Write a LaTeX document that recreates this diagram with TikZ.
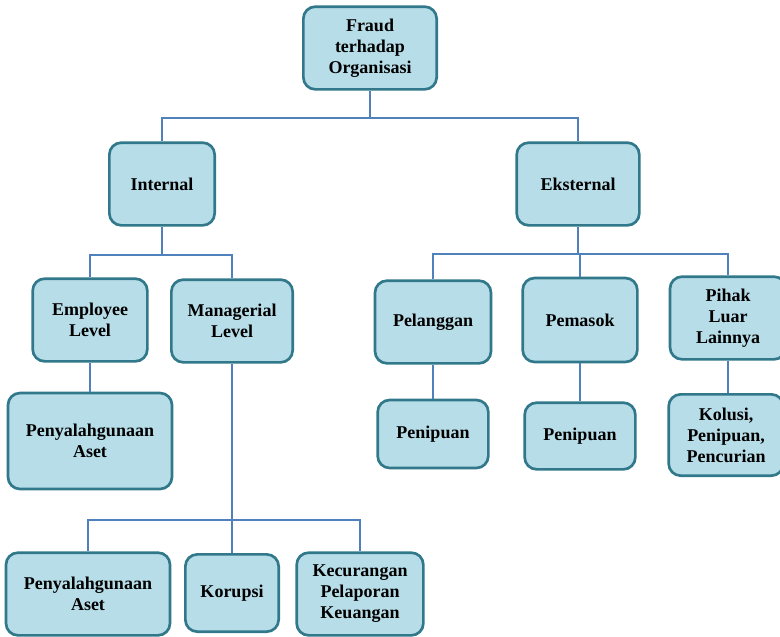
\documentclass[tikz,border=0pt]{standalone}
\usepackage{fontspec}
\setmainfont{Liberation Serif}
\usetikzlibrary{positioning}

\definecolor{boxfill}{HTML}{B7DDE8}
\definecolor{boxline}{HTML}{31788A}
\definecolor{linkline}{HTML}{4F81BD}

\begin{document}
\begin{tikzpicture}[x=0.75pt, y=-0.75pt]
    \tikzstyle{b}=[draw=boxline, fill=boxfill, line width=2pt, rounded corners=9pt,
        align=center, inner sep=2pt, font=\fontsize{13.5}{15.75}\selectfont\bfseries]
    \tikzstyle{e}=[draw=linkline, line width=0.8pt]

    \useasboundingbox (0,0) rectangle (780,636);

    % top
    \node[b, minimum width=100pt, minimum height=62pt] (root) at (370,48) {Fraud\\terhadap\\Organisasi};
    \node[b, minimum width=79pt, minimum height=62pt] (int) at (162,184) {Internal};
    \node[b, minimum width=92pt, minimum height=62pt] (ext) at (578,184) {Eksternal};

    % internal
    \node[b, minimum width=86pt, minimum height=62pt] (emp) at (90,320) {Employee\\Level};
    \node[b, minimum width=91pt, minimum height=62pt] (man) at (232,321) {Managerial\\Level};
    \node[b, minimum width=123pt, minimum height=72pt] (asetA) at (90,441) {Penyalahgunaan\\Aset};
    \node[b, minimum width=123pt, minimum height=62pt] (asetB) at (88,594) {Penyalahgunaan\\Aset};
    \node[b, minimum width=70pt, minimum height=58pt] (kor) at (232,593) {Korupsi};
    \node[b, minimum width=95pt, minimum height=62pt] (lap) at (360,594) {Kecurangan\\Pelaporan\\Keuangan};

    % eksternal
    \node[b, minimum width=87pt, minimum height=62pt] (pel) at (433,322) {Pelanggan};
    \node[b, minimum width=86pt, minimum height=63pt] (pem) at (580,320) {Pemasok};
    \node[b, minimum width=87pt, minimum height=62pt] (lain) at (728,318) {Pihak\\Luar\\Lainnya};
    \node[b, minimum width=83pt, minimum height=51pt] (tipuA) at (433,434) {Penipuan};
    \node[b, minimum width=83pt, minimum height=50pt] (tipuB) at (580,436) {Penipuan};
    \node[b, minimum width=86pt, minimum height=61pt] (kol) at (726,435) {Kolusi,\\Penipuan,\\Pencurian};

    \draw[e] (root.south) -- (370,118) -| (int.north);
    \draw[e] (370,118) -| (ext.north);

    \draw[e] (int.south) -- (162,255) -| (emp.north);
    \draw[e] (162,255) -| (man.north);
    \draw[e] (emp.south) -- (asetA.north);

    \draw[e] (man.south) -- (kor.north);
    \draw[e] (232,520) -| (asetB.north);
    \draw[e] (232,520) -| (lap.north);

    \draw[e] (ext.south) -- (578,254);
    \draw[e] (pem.north) -- (580,254);
    \draw[e] (578,254) -| (pel.north);
    \draw[e] (578,254) -| (lain.north);
    \draw[e] (pel.south) -- (tipuA.north);
    \draw[e] (pem.south) -- (tipuB.north);
    \draw[e] (lain.south) -- (lain.south |- kol.north);

\end{tikzpicture}
\end{document}
